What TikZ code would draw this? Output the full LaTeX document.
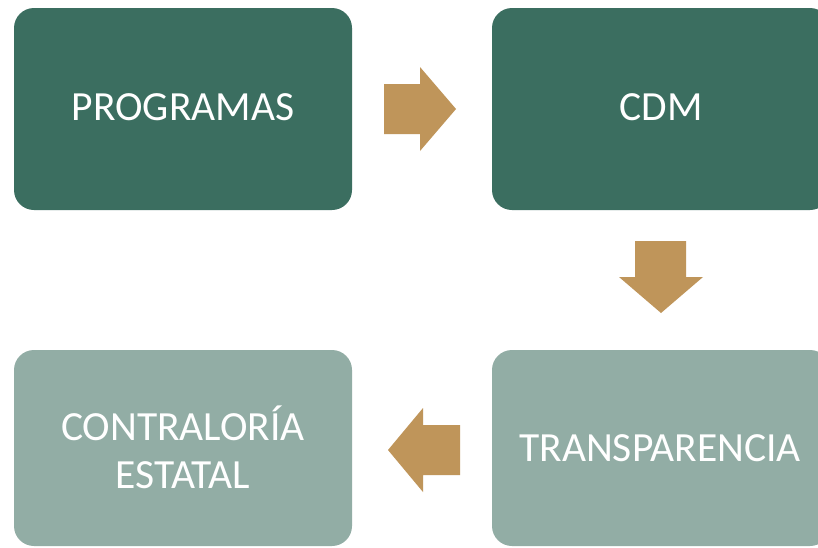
\documentclass[tikz,border=0pt]{standalone}
\usepackage{fontspec}
\setmainfont{Carlito}
\definecolor{darkbox}{HTML}{3B6E60}
\definecolor{lightbox}{HTML}{92ADA5}
\definecolor{gold}{HTML}{BF955A}
\begin{document}
\begin{tikzpicture}[x=1pt,y=-1pt,
  box/.style={rounded corners=20pt},
  lbl/.style={text=white,font=\fontsize{41.5}{48}\selectfont,align=center},
  blockarrow/.style={fill=gold}]
\useasboundingbox (0,0) rectangle (818,547);
\clip (0,0) rectangle (818,547);
\fill[white] (0,0) rectangle (818,547);
% boxes
\fill[box,darkbox] (14,8) rectangle (352,210);
\fill[box,darkbox] (492,8) rectangle (830,210);
\fill[box,lightbox] (14,350) rectangle (352,546);
\fill[box,lightbox] (492,350) rectangle (830,546);
\node[lbl] (prog) at (183,107) {PROGRAMAS};
\node[lbl] (cdm) at (661,107) {CDM};
\node[lbl] (transp) at (660,448) {TRANSPARENCIA};
\node[lbl] (contra) at (183,447) {CONTRALORÍA\\ESTATAL};
% arrows
\fill[blockarrow] (384,84) -- (420,84) -- (420,67) -- (456,109) -- (420,151) -- (420,134) -- (384,134) -- cycle;
\fill[blockarrow] (635,241) -- (686,241) -- (686,277) -- (703,277) -- (661,313) -- (619,277) -- (635,277) -- cycle;
\fill[blockarrow] (460,425) -- (423,425) -- (423,408) -- (388,450) -- (423,492) -- (423,475) -- (460,475) -- cycle;
\end{tikzpicture}
\end{document}
